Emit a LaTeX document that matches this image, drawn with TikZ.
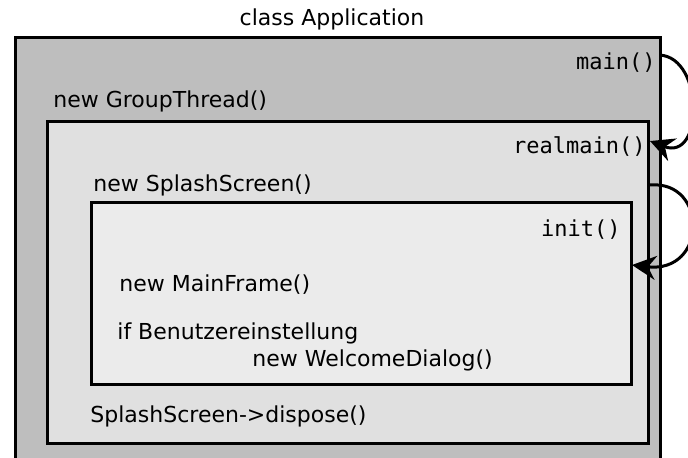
\documentclass[tikz,border=0pt]{standalone}
\usepackage{fontspec}
\setmainfont{DejaVu Sans}
\setmonofont{DejaVu Sans Mono}
\usetikzlibrary{arrows.meta}
\definecolor{appgray}{HTML}{BEBEBE}
\definecolor{threadgray}{HTML}{E0E0E0}
\definecolor{splashgray}{HTML}{EBEBEB}

\begin{document}
\begin{tikzpicture}[x=0.5pt,y=-0.5pt,
  box/.style={draw=black, line width=1.5pt},
  txt/.style={anchor=base west, inner sep=0pt, font=\fontsize{11}{13}\selectfont},
  meth/.style={anchor=base east, inner sep=0pt, font=\fontsize{11}{13}\selectfont\ttfamily},
  call/.style={line width=1.5pt, -{Stealth[length=12pt,width=12pt,inset=4pt]}}]
\clip (0,0) rectangle (688,458);

% Klasse Application
\node[txt, anchor=base] (title) at (332,26) {class Application};
\draw[box, fill=appgray] (15,38) rectangle (660,480);
\node[meth] (main) at (656,70) {main()};
\node[txt] (gtnew) at (53,108) {new GroupThread()};

% GroupThread
\draw[box, fill=threadgray] (47,122) rectangle (648,443);
\node[meth] (realmain) at (646,154) {realmain()};
\node[txt] (ssnew) at (93,192) {new SplashScreen()};
\node[txt] (dispose) at (90,422) {SplashScreen->dispose()};
\coordinate (gtright) at (650,185);

% SplashScreen
\draw[box, fill=splashgray] (91,203) rectangle (631,384);
\node[meth] (init) at (621,237) {init()};
\node[txt] (mfnew) at (119,292) {new MainFrame()};
\node[txt] (ifcond) at (117,339) {if Benutzereinstellung};
\node[txt] (wdnew) at (252,366) {new WelcomeDialog()};
\coordinate (ssright) at (632,265);

% Aufrufe
\draw[call] ([xshift=2pt,yshift=4pt]main.east) .. controls (704,58) and (704,162) .. ([xshift=2pt,yshift=3pt]realmain.east);
\draw[call] (gtright) .. controls (708,180) and (708,274) .. (ssright);
\end{tikzpicture}
\end{document}
